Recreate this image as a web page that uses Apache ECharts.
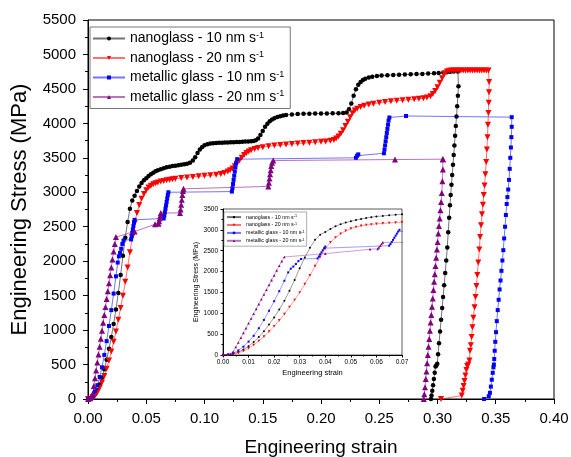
<!DOCTYPE html>
<html><head><meta charset="utf-8">
<script src="https://cdn.jsdelivr.net/npm/echarts@6/dist/echarts.min.js"></script>
<style>html,body{margin:0;padding:0;background:#fff}#c{width:571px;height:457px}</style>
</head><body><div id="c"></div>
<script>
const seriesNames = ['nanoglass - 10 nm s-1', 'nanoglass - 20 nm s-1', 'metallic glass - 10 nm s-1', 'metallic glass - 20 nm s-1'];
const seriesColors = ['#000000', '#ff0000', '#0000ff', '#800080'];

const ng10 = [[0,0],[0.002,8],[0.004,30],[0.006,70],[0.008,130],[0.010,210],[0.012,310],[0.014,430],[0.016,570],[0.018,730],[0.020,900],[0.022,1090],[0.024,1300],[0.026,1540],[0.028,1800],[0.030,2080],[0.032,2340],[0.034,2570],[0.036,2760],[0.038,2880],[0.040,2950],[0.042,3020],[0.044,3085],[0.046,3135],[0.048,3175],[0.050,3205],[0.052,3235],[0.054,3260],[0.056,3285],[0.058,3305],[0.060,3320],[0.0625,3335],[0.065,3350],[0.0675,3362],[0.070,3372],[0.0725,3380],[0.075,3386],[0.0775,3392],[0.080,3398],[0.0825,3405],[0.085,3414],[0.0875,3430],[0.090,3462],[0.092,3510],[0.094,3570],[0.096,3620],[0.098,3658],[0.100,3683],[0.1025,3698],[0.105,3706],[0.1075,3711],[0.110,3714],[0.1125,3717],[0.115,3719],[0.1175,3721],[0.120,3723],[0.1225,3725],[0.125,3727],[0.1275,3729],[0.130,3731],[0.1325,3733],[0.135,3735],[0.1375,3737],[0.140,3740],[0.142,3745],[0.144,3755],[0.146,3780],[0.148,3830],[0.150,3890],[0.152,3950],[0.154,3995],[0.156,4030],[0.158,4055],[0.160,4075],[0.1625,4092],[0.165,4105],[0.1675,4115],[0.170,4122],[0.175,4130],[0.180,4135],[0.185,4138],[0.190,4140],[0.195,4142],[0.200,4143],[0.205,4144],[0.210,4146],[0.215,4148],[0.219,4152],[0.222,4158],[0.224,4205],[0.226,4290],[0.228,4400],[0.230,4495],[0.232,4560],[0.234,4600],[0.236,4628],[0.238,4648],[0.241,4665],[0.244,4677],[0.248,4687],[0.252,4694],[0.257,4699],[0.262,4703],[0.267,4706],[0.272,4709],[0.277,4712],[0.282,4715],[0.287,4718],[0.292,4722],[0.297,4726],[0.301,4731],[0.305,4737],[0.308,4743],[0.311,4748],[0.314,4752],[0.3175,4752],[0.318,4540],[0.3175,4400],[0.3169,4250],[0.3163,4100],[0.3157,3960],[0.3151,3820],[0.3145,3680],[0.3139,3540],[0.3133,3400],[0.3126,3250],[0.3120,3110],[0.3113,2960],[0.3107,2810],[0.3100,2630],[0.3092,2420],[0.3084,2200],[0.3075,2010],[0.3066,1830],[0.3057,1650],[0.3048,1480],[0.3040,1320],[0.3031,1150],[0.3022,980],[0.3013,810],[0.3005,650],[0.2998,510],[0.2990,485],[0.2983,470],[0.2976,380],[0.2969,290],[0.2962,200],[0.2955,120],[0.2949,50],[0.2944,0]];

const ng20 = [[0,0],[0.002,5],[0.004,20],[0.006,48],[0.008,95],[0.010,160],[0.012,240],[0.014,335],[0.016,440],[0.018,560],[0.020,690],[0.022,830],[0.024,980],[0.026,1150],[0.028,1320],[0.030,1500],[0.032,1700],[0.034,1910],[0.036,2130],[0.038,2350],[0.040,2550],[0.042,2700],[0.044,2815],[0.046,2905],[0.048,2975],[0.050,3030],[0.052,3068],[0.054,3095],[0.056,3115],[0.058,3130],[0.060,3143],[0.0625,3155],[0.065,3165],[0.0675,3174],[0.070,3182],[0.0725,3189],[0.075,3195],[0.080,3206],[0.085,3215],[0.090,3223],[0.095,3231],[0.100,3238],[0.105,3246],[0.110,3255],[0.114,3266],[0.117,3280],[0.120,3300],[0.122,3320],[0.124,3345],[0.126,3378],[0.128,3418],[0.130,3460],[0.132,3502],[0.134,3540],[0.136,3570],[0.138,3593],[0.140,3610],[0.143,3628],[0.146,3642],[0.150,3655],[0.155,3668],[0.160,3678],[0.165,3686],[0.170,3694],[0.175,3701],[0.180,3708],[0.185,3714],[0.190,3720],[0.195,3726],[0.200,3732],[0.204,3738],[0.208,3746],[0.211,3760],[0.213,3780],[0.215,3810],[0.217,3850],[0.219,3900],[0.221,3960],[0.223,4025],[0.225,4090],[0.227,4145],[0.229,4185],[0.231,4212],[0.234,4238],[0.237,4256],[0.241,4272],[0.245,4285],[0.250,4298],[0.255,4310],[0.260,4320],[0.265,4328],[0.270,4336],[0.275,4343],[0.280,4350],[0.284,4356],[0.288,4364],[0.291,4375],[0.294,4395],[0.296,4425],[0.298,4470],[0.300,4525],[0.302,4590],[0.304,4655],[0.306,4715],[0.308,4752],[0.310,4764],[0.312,4766],[0.314,4767],[0.316,4768],[0.318,4768],[0.320,4768],[0.322,4768],[0.324,4768],[0.326,4768],[0.328,4768],[0.330,4768],[0.332,4768],[0.334,4768],[0.336,4768],[0.338,4768],[0.340,4768],[0.342,4768],[0.3438,4768],[0.3443,4600],[0.3442,4450],[0.3440,4300],[0.3437,4150],[0.3433,3980],[0.3429,3800],[0.3424,3620],[0.3418,3440],[0.3411,3260],[0.3404,3100],[0.3397,2960],[0.3390,2820],[0.3382,2680],[0.3374,2520],[0.3366,2350],[0.3359,2170],[0.3350,1980],[0.3342,1800],[0.3334,1640],[0.3326,1480],[0.3318,1330],[0.3308,1180],[0.3300,1040],[0.3293,900],[0.3286,780],[0.3279,700],[0.3274,560],[0.3265,500],[0.3255,480],[0.3248,420],[0.3240,340],[0.3232,260],[0.3224,190],[0.3216,120],[0.3208,50],[0.3030,0]];

const mg10 = [[0,0],[0.002,10],[0.004,45],[0.006,110],[0.008,200],[0.010,320],[0.012,460],[0.014,640],[0.016,840],[0.018,1060],[0.020,1290],[0.022,1530],[0.024,1780],[0.0255,1980],[0.0265,2070],[0.0275,2120],[0.0285,2180],[0.0295,2250],[0.0305,2300],[0.0370,2315],[0.0375,2360],[0.0380,2410],[0.0385,2460],[0.0390,2510],[0.0395,2560],[0.0400,2600],[0.0650,2620],[0.0655,2660],[0.0660,2710],[0.0665,2760],[0.0670,2810],[0.0675,2860],[0.0680,2910],[0.0685,2960],[0.0690,3000],[0.1235,3010],[0.1240,3060],[0.1245,3120],[0.1250,3180],[0.1255,3240],[0.1260,3300],[0.1265,3360],[0.1270,3420],[0.1280,3480],[0.2300,3500],[0.2310,3530],[0.2320,3550],[0.2540,3566],[0.2545,3620],[0.2550,3680],[0.2555,3740],[0.2560,3800],[0.2565,3860],[0.2570,3920],[0.2575,3980],[0.2580,4040],[0.2587,4085],[0.2730,4107],[0.3637,4090],[0.3637,3950],[0.3634,3800],[0.3630,3650],[0.3625,3500],[0.3620,3340],[0.3614,3180],[0.3607,3040],[0.3600,2930],[0.3594,2830],[0.3587,2670],[0.3580,2500],[0.3572,2330],[0.3565,2160],[0.3557,2010],[0.3549,1860],[0.3541,1720],[0.3533,1590],[0.3525,1440],[0.3517,1290],[0.3509,1130],[0.3502,970],[0.3496,830],[0.3491,700],[0.3487,580],[0.3484,500],[0.3480,460],[0.3474,380],[0.3466,280],[0.3458,180],[0.3450,90],[0.3440,40],[0.3400,0]];

const mg20 = [[0,0],[0.002,10],[0.003,30],[0.004,80],[0.005,190],[0.006,300],[0.007,415],[0.008,530],[0.009,645],[0.010,760],[0.011,875],[0.012,990],[0.013,1105],[0.014,1220],[0.015,1335],[0.016,1450],[0.017,1565],[0.018,1680],[0.019,1795],[0.020,1910],[0.021,2025],[0.022,2140],[0.023,2250],[0.024,2350],[0.040,2430],[0.0575,2535],[0.0605,2545],[0.0610,2580],[0.0615,2620],[0.0620,2660],[0.0625,2700],[0.0790,2700],[0.0795,2750],[0.0800,2820],[0.0805,2890],[0.0810,2960],[0.0815,3020],[0.0820,3050],[0.1548,3085],[0.1553,3140],[0.1558,3200],[0.1563,3260],[0.1568,3320],[0.1573,3380],[0.1580,3430],[0.1590,3460],[0.2635,3475],[0.3045,3480],[0.3048,3480],[0.3046,3330],[0.3042,3160],[0.3037,2990],[0.3031,2860],[0.3025,2740],[0.3019,2620],[0.3013,2510],[0.3007,2400],[0.3001,2280],[0.2995,2170],[0.2989,2050],[0.2983,1930],[0.2977,1810],[0.2971,1700],[0.2965,1580],[0.2959,1460],[0.2953,1340],[0.2947,1220],[0.2941,1110],[0.2935,990],[0.2929,870],[0.2923,760],[0.2917,640],[0.2911,520],[0.2905,400],[0.2899,290],[0.2893,170],[0.2887,70],[0.2882,0]];

const seriesData = [ng10, ng20, mg10, mg20];
const symbols = ['circle', 'triangle', 'rect', 'triangle'];
const rotations = [0, 180, 0, 0];
const mainSizes = [4.5, 6, 4, 6];
const insetSizes = [2, 2.6, 2, 2.6];

const FONT = 'Liberation Sans, Arial, sans-serif';
const fmtName = n => '{m|' + n.replace(/-1$/, '') + '}{sup|-1}';

const series = [];
seriesData.forEach((d, i) => {
  series.push({
    type: 'line', name: seriesNames[i], data: d, xAxisIndex: 0, yAxisIndex: 0,
    symbol: symbols[i], symbolRotate: rotations[i], symbolSize: mainSizes[i],
    itemStyle: {color: seriesColors[i]},
    lineStyle: {color: seriesColors[i], width: 1, opacity: 0.55},
    animation: false, z: 2 + i
  });
});
seriesData.forEach((d, i) => {
  series.push({
    type: 'line', name: seriesNames[i], data: d, xAxisIndex: 1, yAxisIndex: 1,
    symbol: symbols[i], symbolRotate: rotations[i], symbolSize: insetSizes[i],
    itemStyle: {color: seriesColors[i]},
    lineStyle: {color: seriesColors[i], width: 0.7, opacity: 0.55},
    clip: true, animation: false, z: 12 + i
  });
});

const axisCommon = (tl, ml) => ({
  axisLine: {onZero: false, lineStyle: {color: '#000', width: 1}},
  axisTick: {show: true, length: tl, lineStyle: {color: '#000'}},
  minorTick: {show: true, splitNumber: 2, length: ml, lineStyle: {color: '#000'}},
  splitLine: {show: false},
});
const plain = v => String(Math.round(v));

const option = {
  animation: false,
  backgroundColor: '#fff',
  grid: [
    {left: 88, top: 20, width: 466, height: 379, show: true, borderColor: '#000', borderWidth: 1, containLabel: false, outerBoundsMode: 'none'},
    {left: 223, top: 209, width: 179, height: 146, show: true, borderColor: '#333', borderWidth: 0.8, containLabel: false, outerBoundsMode: 'none'}
  ],
  xAxis: [
    Object.assign({gridIndex: 0, type: 'value', min: 0, max: 0.4, interval: 0.05,
      name: 'Engineering strain', nameLocation: 'middle', nameGap: 39,
      nameTextStyle: {fontSize: 19, color: '#000', fontFamily: FONT},
      axisLabel: {fontSize: 15, color: '#000', margin: 12, fontFamily: FONT, formatter: v => v.toFixed(2)}
    }, axisCommon(5, 3)),
    Object.assign({gridIndex: 1, type: 'value', min: 0, max: 0.07, interval: 0.01,
      name: 'Engineering strain', nameLocation: 'middle', nameGap: 14,
      nameTextStyle: {fontSize: 7.5, color: '#000', fontFamily: FONT},
      axisLabel: {fontSize: 6.5, color: '#000', margin: 4, fontFamily: FONT, formatter: v => v.toFixed(2)}
    }, axisCommon(2.5, 1.5))
  ],
  yAxis: [
    Object.assign({gridIndex: 0, type: 'value', min: 0, max: 5500, interval: 500,
      name: 'Engineering Stress (MPa)', nameLocation: 'middle', nameGap: 57,
      nameTextStyle: {fontSize: 22, color: '#000', fontFamily: FONT},
      axisLabel: {fontSize: 15, color: '#000', margin: 12, fontFamily: FONT, formatter: plain}
    }, axisCommon(5, 3)),
    Object.assign({gridIndex: 1, type: 'value', min: 0, max: 3500, interval: 500,
      name: 'Engineering Stress (MPa)', nameLocation: 'middle', nameGap: 22,
      nameTextStyle: {fontSize: 7, color: '#000', fontFamily: FONT},
      axisLabel: {fontSize: 6.5, color: '#000', margin: 5, fontFamily: FONT, formatter: plain}
    }, axisCommon(2.5, 1.5))
  ],
  legend: [
    {orient: 'vertical', left: 90, top: 27, itemWidth: 32, itemHeight: 5, itemGap: 4.5,
     padding: [4, 6, 4, 2], borderColor: '#777', borderWidth: 1, selectedMode: false,
     data: seriesNames, formatter: fmtName,
     textStyle: {color: '#000', fontFamily: FONT, fontSize: 14,
       rich: {m: {fontSize: 14, lineHeight: 15, fontFamily: FONT, color: '#000'},
              sup: {fontSize: 9, lineHeight: 15, verticalAlign: 'top', padding: [0, 0, 6, 0], fontFamily: FONT, color: '#000'}}}},
    {orient: 'vertical', left: 224, top: 212, itemWidth: 14, itemHeight: 3, itemGap: 1.4,
     padding: [2, 2, 2, 2], borderColor: '#777', borderWidth: 0.6, selectedMode: false,
     data: seriesNames, formatter: fmtName,
     textStyle: {color: '#000', fontFamily: FONT, fontSize: 5.3,
       rich: {m: {fontSize: 5.3, lineHeight: 6.2, fontFamily: FONT, color: '#000'},
              sup: {fontSize: 3.7, lineHeight: 6.2, verticalAlign: 'top', padding: [0, 0, 2.5, 0], fontFamily: FONT, color: '#000'}}}}
  ],
  series: series
};

const chart = echarts.init(document.getElementById('c'), null, {renderer: 'canvas'});
chart.setOption(option);
</script>
</body></html>
